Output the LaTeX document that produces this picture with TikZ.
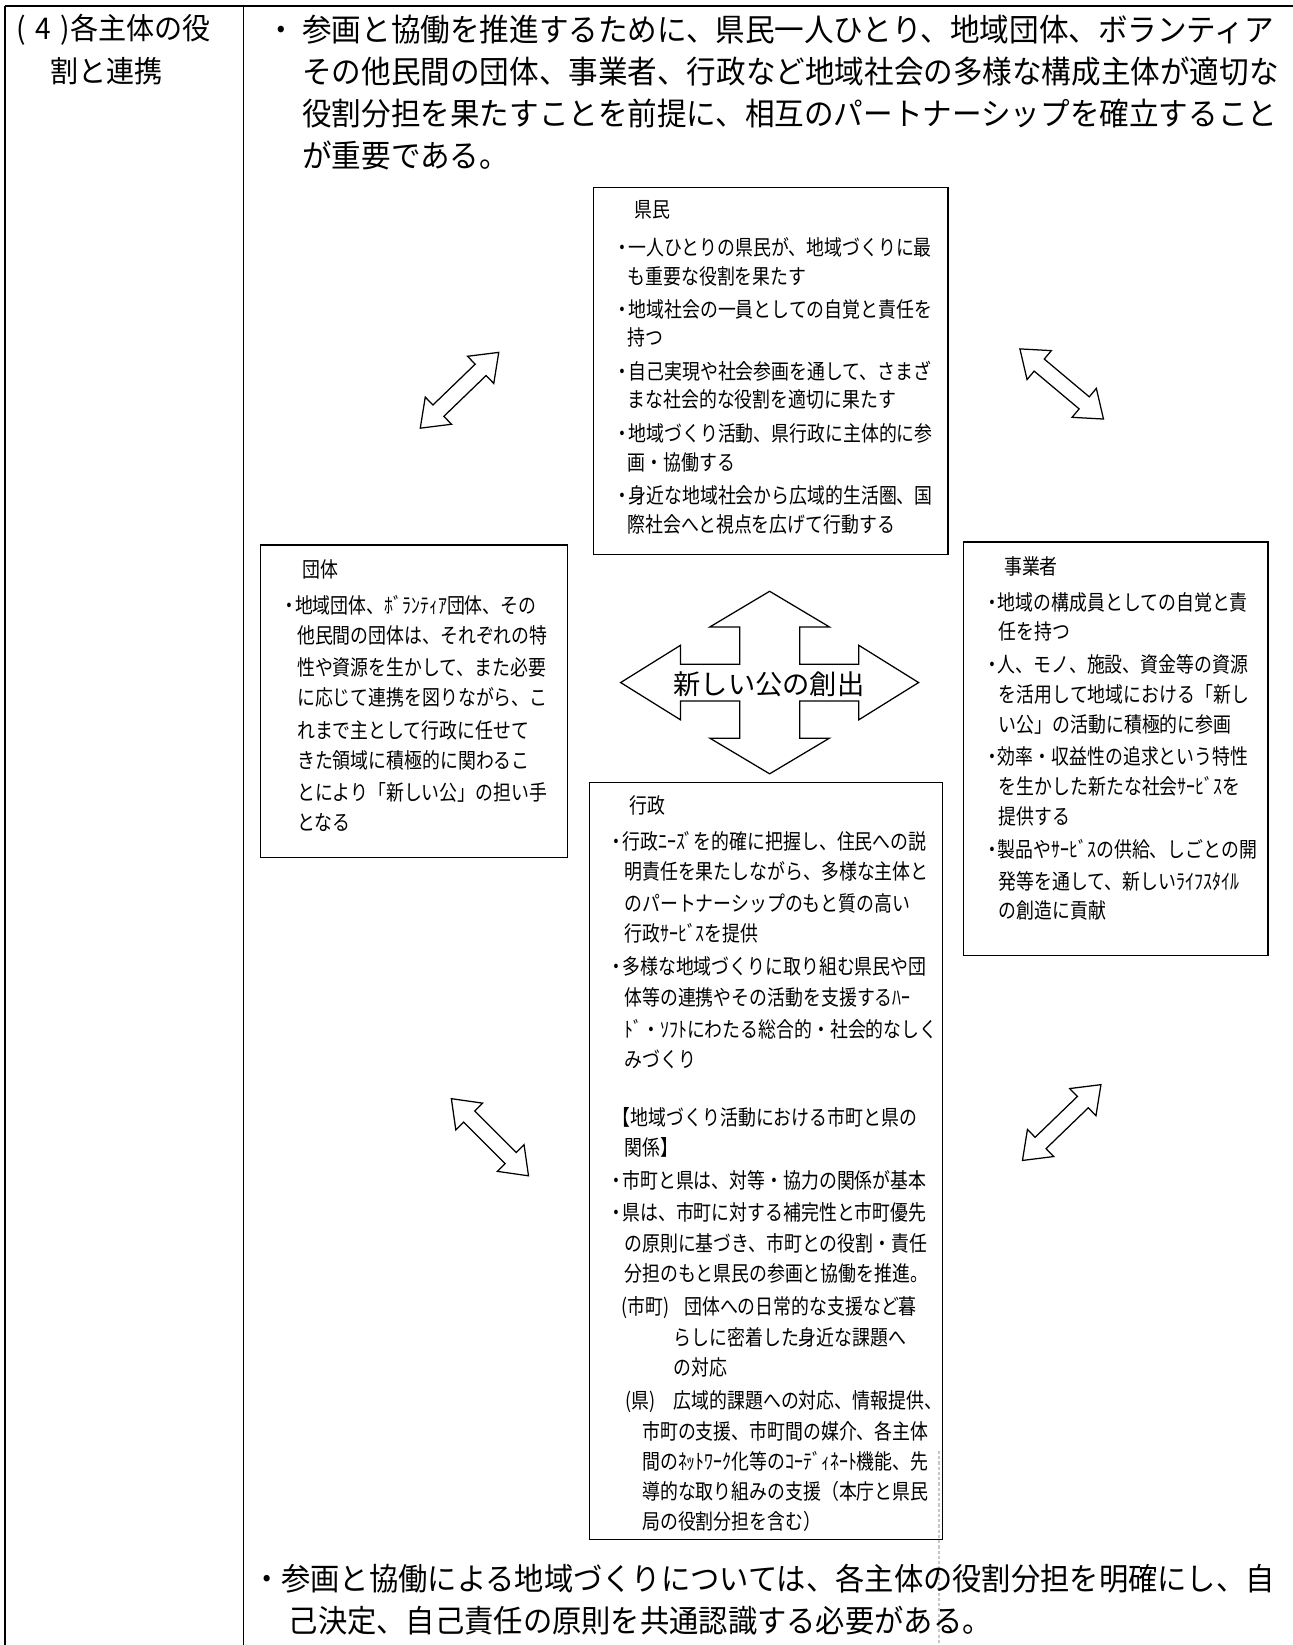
\documentclass[tikz,border=0pt]{standalone}
\usepackage{fontspec}
\newfontfamily\jpmain{Noto Sans CJK JP}[FakeStretch=0.94]
\newfontfamily\jpbox{Noto Sans CJK JP}[FakeStretch=0.84]
\newfontfamily\jpplain{Noto Sans CJK JP}
\newcommand\bul{\makebox[11pt][c]{・}}
\tikzset{
  tline/.style={line width=1.6pt},
  mainline/.style={anchor=west, inner sep=0pt, font=\jpmain\fontsize{30}{30}\selectfont, text height=26.4pt, text depth=3.6pt},
  botline/.style={anchor=west, inner sep=0pt, font=\jpmain\fontsize{29.7}{29.7}\selectfont, text height=26.1pt, text depth=3.6pt},
  titleline/.style={anchor=west, inner sep=0pt, font=\jpmain\fontsize{28.5}{28.5}\selectfont, text height=25pt, text depth=3.4pt},
  boxline/.style={anchor=west, inner sep=0pt, font=\jpbox\fontsize{20.3}{20.3}\selectfont, text height=17.9pt, text depth=2.4pt},
  rolebox/.style={draw, line width=1.2pt, inner sep=0pt, anchor=north west},
  hollow/.style={draw, line width=1.2pt, fill=white, line join=miter},
  dblarrow/.pic={\path[hollow] (52,0) -- (28,18) -- (28,7.5) -- (-28,7.5) -- (-28,18) -- (-52,0) -- (-28,-18) -- (-28,-7.5) -- (28,-7.5) -- (28,-18) -- cycle;}
}
\begin{document}
\begin{tikzpicture}[x=1pt,y=-1pt]
\useasboundingbox (0,0) rectangle (1232,1568);
% table frame
\draw[tline] (5,6) -- (1232,6);
\draw[tline] (5,6) -- (5,1568);
\draw[tline] (232,6) -- (232,1568);
% left cell
\node[titleline] (t1) at (16,27) {(\kern9pt 4\kern9pt)各主体の役};
\node[titleline] (t2) at (48,68) {割と連携};
% top paragraph
\node[mainline] (mb) at (262,28) {\bul};
\node[mainline] (m1) at (288,28) {参画と協働を推進するために、県民一人ひとり、地域団体、ボランティア};
\node[mainline] (m2) at (288,68) {その他民間の団体、事業者、行政など地域社会の多様な構成主体が適切な};
\node[mainline] (m3) at (288,108) {役割分担を果たすことを前提に、相互のパートナーシップを確立すること};
\node[mainline] (m4) at (288,148) {が重要である。};
% role boxes
\node[rolebox, minimum width=338pt, minimum height=350pt] (kenmin) at (565,178) {};
\node[rolebox, minimum width=292pt, minimum height=298pt] (dantai) at (248,519) {};
\node[rolebox, minimum width=290pt, minimum height=394pt] (jigyo) at (918,516) {};
\node[rolebox, minimum width=337pt, minimum height=722pt] (gyosei) at (561,745) {};
% kenmin text
\foreach \yy/\xx/\mytext [count=\i] in {
 200/605/県民,
 236/588/\bul 一人ひとりの県民が、地域づくりに最,
 263/598/も重要な役割を果たす,
 295/588/\bul 地域社会の一員としての自覚と責任を,
 322/598/持つ,
 354/588/\bul 自己実現や社会参画を通して、さまざ,
 381/598/まな社会的な役割を適切に果たす,
 413/588/\bul 地域づくり活動、県行政に主体的に参,
 441/598/画・協働する,
 472/588/\bul 身近な地域社会から広域的生活圏、国,
 500/598/際社会へと視点を広げて行動する}
 {\node[boxline] (k\i) at (\xx,\yy) {\mytext};}
% dantai text
\foreach \yy/\xx/\mytext [count=\i] in {
 543/288/団体,
 577/270/\bul 地域団体、ﾎﾞﾗﾝﾃｨｱ団体、その,
 606/283/他民間の団体は、それぞれの特,
 636/283/性や資源を生かして、また必要,
 665/283/に応じて連携を図りながら、こ,
 696/283/れまで主として行政に任せて,
 725/283/きた領域に積極的に関わるこ,
 755/283/とにより「新しい公」の担い手,
 784/283/となる}
 {\node[boxline] (d\i) at (\xx,\yy) {\mytext};}
% jigyo text
\foreach \yy/\xx/\mytext [count=\i] in {
 540/957/事業者,
 574/940/\bul 地域の構成員としての自覚と責,
 602/952/任を持つ,
 633/940/\bul 人、モノ、施設、資金等の資源,
 662/952/を活用して地域における「新し,
 690/952/い公」の活動に積極的に参画,
 721/940/\bul 効率・収益性の追求という特性,
 750/952/を生かした新たな社会ｻｰﾋﾞｽを,
 778/952/提供する,
 810/940/\bul 製品やｻｰﾋﾞｽの供給、しごとの開,
 840/952/発等を通して、新しいﾗｲﾌｽﾀｲﾙ,
 868/952/の創造に貢献}
 {\node[boxline] (j\i) at (\xx,\yy) {\mytext};}
% gyosei text
\foreach \yy/\xx/\mytext [count=\i] in {
 768/600/行政,
 802/582/\bul 行政ﾆｰｽﾞを的確に把握し、住民への説,
 831/595/明責任を果たしながら、多様な主体と,
 861/595/のパートナーシップのもと質の高い,
 890/595/行政ｻｰﾋﾞｽを提供,
 921/582/\bul 多様な地域づくりに取り組む県民や団,
 951/595/体等の連携やその活動を支援するﾊｰ,
 981/595/ﾄﾞ・ｿﾌﾄにわたる総合的・社会的なしく,
 1010/595/みづくり,
 1065/584/【地域づくり活動における市町と県の,
 1094/595/関係】,
 1125/582/\bul 市町と県は、対等・協力の関係が基本,
 1156/582/\bul 県は、市町に対する補完性と市町優先,
 1185/595/の原則に基づき、市町との役割・責任,
 1214/595/分担のもと県民の参画と協働を推進。,
 1245/592/(市町),
 1245/652/団体への日常的な支援など暮,
 1275/642/らしに密着した身近な課題へ,
 1303/642/の対応,
 1335/596/(県),
 1335/642/広域的課題への対応、情報提供、,
 1364/612/市町の支援、市町間の媒介、各主体,
 1393/612/間のﾈｯﾄﾜｰｸ化等のｺｰﾃﾞｨﾈｰﾄ機能、先,
 1422/612/導的な取り組みの支援（本庁と県民,
 1450/612/局の役割分担を含む）}
 {\node[boxline] (g\i) at (\xx,\yy) {\mytext};}
% dotted gray line
\coordinate (dtop) at (895,1383);
\coordinate (dbot) at (895,1568);
\draw[gray!45, line width=2pt, dash pattern=on 3pt off 2pt] (dtop) -- (dbot);
% central four-way arrow
\begin{scope}[shift={(733.6,650.6)}]
\path[hollow] (0,-87) -- (57,-53) -- (28.6,-53) -- (28.6,-17.5) -- (85,-17.5) -- (85,-35.5) -- (142,0) -- (85,35.5) -- (85,17.5) -- (28.6,17.5) -- (28.6,53) -- (57,53) -- (0,87) -- (-57,53) -- (-28.6,53) -- (-28.6,17.5) -- (-85,17.5) -- (-85,35.5) -- (-142,0) -- (-85,-35.5) -- (-85,-17.5) -- (-28.6,-17.5) -- (-28.6,-53) -- (-57,-53) -- cycle;
\end{scope}
\node[inner sep=0pt, font=\jpplain\fontsize{26}{26}\selectfont] (center) at (733,652) {新しい公の創出};
% diagonal double arrows
\pic[shift={(438,372)}, rotate=44] {dblarrow};
\pic[shift={(1012,366)}, rotate=-40] {dblarrow};
\pic[shift={(467,1084)}, rotate=-45] {dblarrow};
\pic[shift={(1012,1070)}, rotate=44] {dblarrow};
% bottom paragraph
\node[botline] (bb) at (249,1505) {\bul};
\node[botline] (b1) at (268,1505) {参画と協働による地域づくりについては、各主体の役割分担を明確にし、自};
\node[botline] (b2) at (275,1545) {己決定、自己責任の原則を共通認識する必要がある。};
\end{tikzpicture}
\end{document}
